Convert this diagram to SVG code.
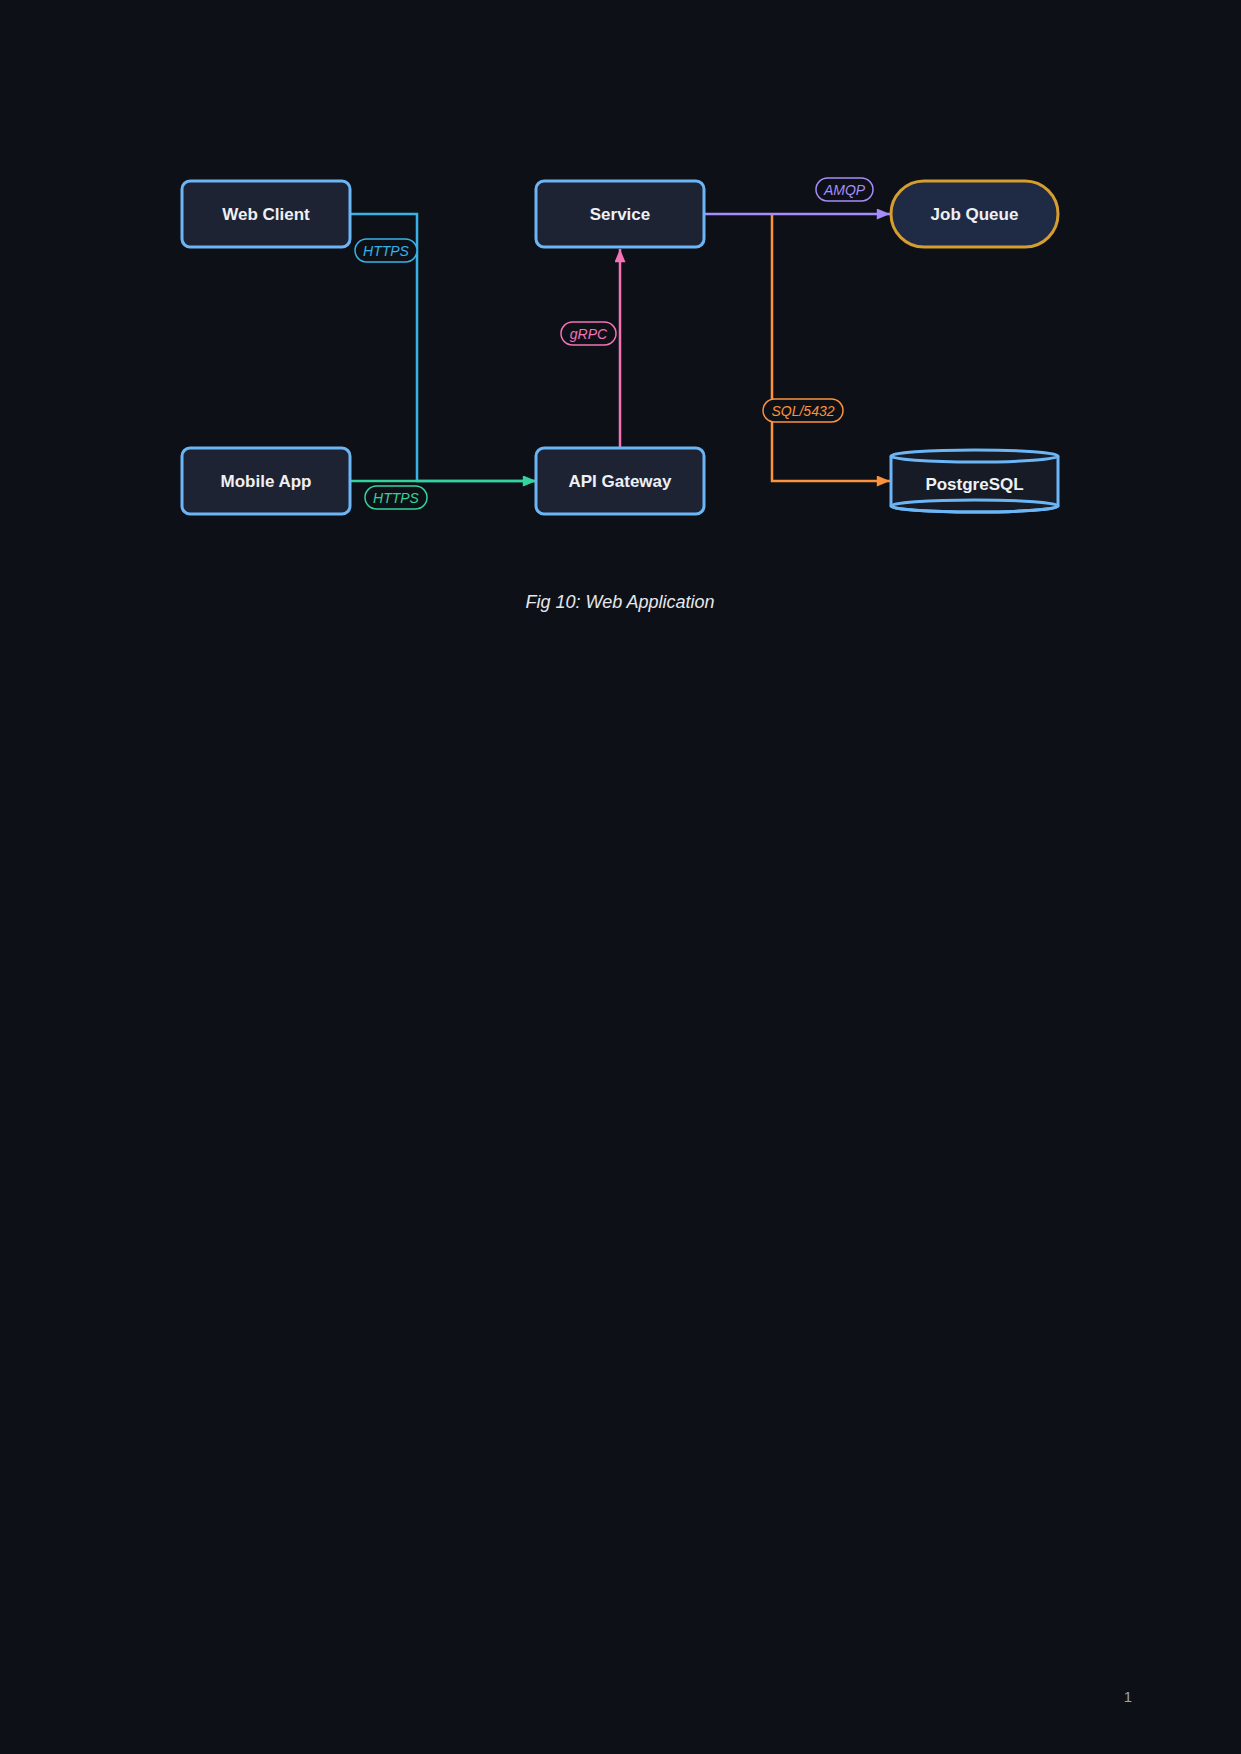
<svg xmlns="http://www.w3.org/2000/svg" width="1241" height="1754" viewBox="0 0 1241 1754">
<defs>
<style>
.node{fill:#1e2333;stroke:#6cb6f5;stroke-width:3}
.ntext{font-family:"Liberation Sans",Arial,sans-serif;font-weight:bold;font-size:17px;fill:#eef0f4;text-anchor:middle;dominant-baseline:central}
.edge{fill:none;stroke-width:2.5}
.pill{fill:#0d1117;stroke-width:1.5}
.ltext{font-family:"Liberation Sans",Arial,sans-serif;font-style:italic;font-size:14px;text-anchor:middle;dominant-baseline:central}
</style>
<marker id="aBlue" viewBox="0 0 12 10" refX="12" refY="5" markerWidth="12" markerHeight="10" markerUnits="userSpaceOnUse" orient="auto"><path d="M0,0L12,5L0,10z" fill="#38b2e6"/></marker>
<marker id="aGreen" viewBox="0 0 12 10" refX="12" refY="5" markerWidth="14" markerHeight="11" markerUnits="userSpaceOnUse" orient="auto"><path d="M0,0L12,5L0,10z" fill="#34d399"/></marker>
<marker id="aPink" viewBox="0 0 12 10" refX="12" refY="5" markerWidth="14" markerHeight="11" markerUnits="userSpaceOnUse" orient="auto"><path d="M0,0L12,5L0,10z" fill="#f472b6"/></marker>
<marker id="aPurple" viewBox="0 0 12 10" refX="12" refY="5" markerWidth="14" markerHeight="11" markerUnits="userSpaceOnUse" orient="auto"><path d="M0,0L12,5L0,10z" fill="#a78bfa"/></marker>
<marker id="aOrange" viewBox="0 0 12 10" refX="12" refY="5" markerWidth="14" markerHeight="11" markerUnits="userSpaceOnUse" orient="auto"><path d="M0,0L12,5L0,10z" fill="#fb923c"/></marker>
</defs>
<rect x="0" y="0" width="1241" height="1754" fill="#0d1117"/>

<g id="connectors">
<path class="edge" stroke="#38b2e6" d="M350,214H417V481H536" marker-end="url(#aBlue)"/>
<path class="edge" stroke="#34d399" d="M350,481H536" marker-end="url(#aGreen)"/>
<path class="edge" stroke="#f472b6" d="M620,447V249" marker-end="url(#aPink)"/>
<path class="edge" stroke="#fb923c" d="M772,215V481H890" marker-end="url(#aOrange)"/>
<path class="edge" stroke="#a78bfa" d="M704,214H890" marker-end="url(#aPurple)"/>

<rect class="pill" stroke="#38b2e6" x="355" y="239" width="62" height="23" rx="11.5"/>
<text class="ltext" fill="#38b2e6" x="386" y="250.5">HTTPS</text>
<rect class="pill" stroke="#34d399" x="365" y="486" width="62" height="23" rx="11.5"/>
<text class="ltext" fill="#34d399" x="396" y="497.5">HTTPS</text>
<rect class="pill" stroke="#f472b6" x="561" y="322" width="55" height="23" rx="11.5"/>
<text class="ltext" fill="#f472b6" x="588.5" y="333.5">gRPC</text>
<rect class="pill" stroke="#a78bfa" x="816" y="178" width="57" height="23" rx="11.5"/>
<text class="ltext" fill="#a78bfa" x="844.5" y="189.5">AMQP</text>
<rect class="pill" stroke="#fb923c" x="763" y="399" width="80" height="23" rx="11.5"/>
<text class="ltext" fill="#fb923c" x="803" y="410.5">SQL/5432</text>
</g>

<g id="web-client">
<rect class="node" x="182" y="181" width="168" height="66" rx="8"/>
<text class="ntext" x="266" y="214">Web Client</text>
</g>
<g id="service">
<rect class="node" x="536" y="181" width="168" height="66" rx="8"/>
<text class="ntext" x="620" y="214">Service</text>
</g>
<g id="job-queue">
<rect x="891" y="181" width="167" height="66" rx="33" fill="#1f2a44" stroke="#d69e2e" stroke-width="3"/>
<text class="ntext" x="974.5" y="214" font-size="16">Job Queue</text>
</g>
<g id="mobile-app">
<rect class="node" x="182" y="448" width="168" height="66" rx="8"/>
<text class="ntext" x="266" y="481">Mobile App</text>
</g>
<g id="api-gateway">
<rect class="node" x="536" y="448" width="168" height="66" rx="8"/>
<text class="ntext" x="620" y="481">API Gateway</text>
</g>
<g id="postgresql">
<path d="M891,456V506A83.5,6 0 0 0 1058,506V456" fill="#161b26" stroke="#6cb6f5" stroke-width="3"/>
<ellipse cx="974.5" cy="456" rx="83.5" ry="6" fill="#161b26" stroke="#6cb6f5" stroke-width="3"/>
<path d="M891,506A83.5,6 0 0 0 1058,506" fill="none" stroke="#6cb6f5" stroke-width="3"/>
<path d="M891,506A83.5,6 0 0 1 1058,506" fill="none" stroke="#6cb6f5" stroke-width="3"/>
<text class="ntext" x="974.5" y="484" font-size="16">PostgreSQL</text>
</g>

<text x="620" y="602" font-family="'Liberation Sans',Arial,sans-serif" font-style="italic" font-size="18" fill="#e6e8ec" text-anchor="middle" dominant-baseline="central">Fig 10: Web Application</text>
<text x="1128" y="1696" font-family="'Liberation Sans',Arial,sans-serif" font-size="15" fill="#9aa3b0" text-anchor="middle" dominant-baseline="central">1</text>
</svg>
